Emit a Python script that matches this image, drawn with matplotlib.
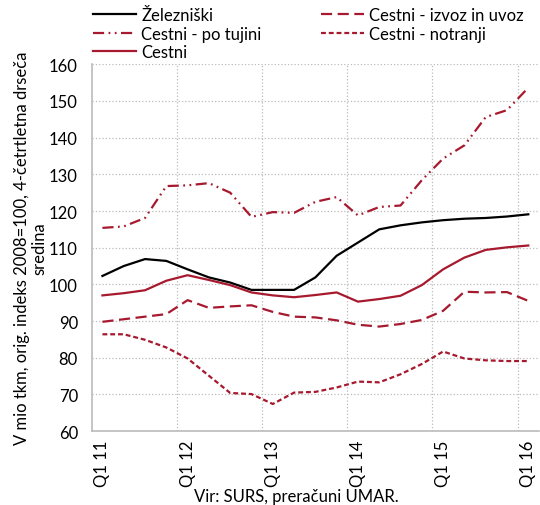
import numpy as np
import matplotlib
matplotlib.use("Agg")
import matplotlib.pyplot as plt

plt.rcParams['font.family'] = ['Lato', 'DejaVu Sans']

quarters = ['Q1 11', 'Q2 11', 'Q3 11', 'Q4 11',
            'Q1 12', 'Q2 12', 'Q3 12', 'Q4 12',
            'Q1 13', 'Q2 13', 'Q3 13', 'Q4 13',
            'Q1 14', 'Q2 14', 'Q3 14', 'Q4 14',
            'Q1 15', 'Q2 15', 'Q3 15', 'Q4 15',
            'Q1 16']

zelezniski = [102.3, 105.0, 106.9, 106.4, 104.1, 101.9, 100.5, 98.5, 98.5, 98.5,
              101.9, 107.8, 111.4, 115.0, 116.1, 116.9, 117.5, 117.9, 118.1, 118.5, 119.1]
cestni = [97.0, 97.6, 98.4, 101.0, 102.5, 101.2, 99.8, 97.8, 97.0, 96.5,
          97.1, 97.8, 95.3, 96.0, 96.9, 99.8, 104.1, 107.3, 109.4, 110.1, 110.6]
izvoz_uvoz = [89.8, 90.5, 91.2, 91.9, 95.7, 93.6, 94.0, 94.3, 92.5, 91.2,
              91.0, 90.2, 89.0, 88.5, 89.2, 90.3, 92.8, 98.0, 97.8, 97.9, 95.5]
po_tujini = [115.4, 115.8, 118.1, 126.8, 127.0, 127.6, 125.0, 118.4, 119.7, 119.5,
             122.5, 123.8, 118.8, 121.1, 121.5, 128.4, 134.3, 137.9, 145.6, 147.5, 153.6]
notranji = [86.4, 86.4, 84.9, 82.8, 79.8, 75.1, 70.4, 70.1, 67.4, 70.5,
            70.7, 71.9, 73.5, 73.3, 75.5, 78.3, 81.7, 79.8, 79.3, 79.1, 79.1]

red = '#A6192E'
fs = 12
x = np.arange(len(quarters))

fig = plt.figure(figsize=(5.4, 5.06), dpi=100)
ax = fig.add_axes([0.170, 0.146, 0.828, 0.725])

l1, = ax.plot(x, zelezniski, color='black', lw=1.6, label='Železniški')
l2, = ax.plot(x, po_tujini, color=red, lw=1.6, dashes=(5, 2, 0.8, 2, 0.8, 2),
              label='Cestni - po tujini')
l3, = ax.plot(x, cestni, color=red, lw=1.6, label='Cestni')
l4, = ax.plot(x, izvoz_uvoz, color=red, lw=1.6, dashes=(5, 2.5),
              label='Cestni - izvoz in uvoz')
l5, = ax.plot(x, notranji, color=red, lw=1.6, dashes=(2.2, 1.3),
              label='Cestni - notranji')

ax.set_xlim(-0.5, len(quarters) - 0.5)
ax.set_ylim(60, 160)
ax.set_yticks(np.arange(60, 161, 10))
ax.tick_params(axis='y', length=0, labelsize=fs, pad=10)

# labels only on Q1, grid on year boundaries
ax.set_xticks(x[::4])
ax.set_xticklabels(quarters[::4], rotation=90, fontsize=fs)
ax.tick_params(axis='x', length=0, pad=6)
ax.set_xticks(np.arange(3.5, len(quarters) - 1, 4), minor=True)
ax.tick_params(axis='x', which='minor', length=0)

ax.grid(axis='y', which='major', color='#bbbbbb', ls=':', lw=0.9)
ax.grid(axis='x', which='minor', color='#bbbbbb', ls=':', lw=0.9)
ax.grid(axis='x', which='major', visible=False)

for s in ['top', 'right']:
    ax.spines[s].set_visible(False)
for s in ['left', 'bottom']:
    ax.spines[s].set_color('#bbbbbb')
    ax.spines[s].set_linewidth(1.2)

ax.set_ylabel('V mio tkm, orig. indeks 2008=100, 4-četrtletna drseča\nsredina',
              fontsize=fs, linespacing=1.05)
ax.yaxis.set_label_coords(-0.10, 0.5)

fig.text(0.548, 0.018, 'Vir: SURS, preračuni UMAR.', ha='center', va='center', fontsize=fs)

fig.legend(handles=[l1, l2, l3, l4, l5], ncol=2, loc='upper left',
           bbox_to_anchor=(0.172, 0.984), frameon=False, fontsize=fs,
           handlelength=2.6, handletextpad=0.3, columnspacing=3.55,
           labelspacing=0.15, borderaxespad=0, borderpad=0)

fig.savefig('out.png', dpi=100)
